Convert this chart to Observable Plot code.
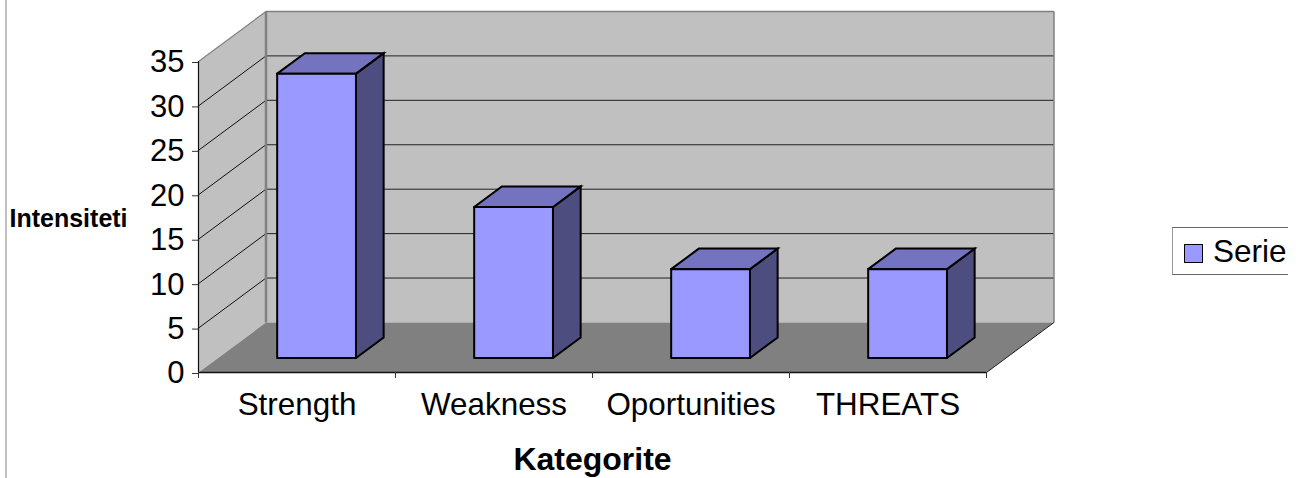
<!DOCTYPE html>
<html>
<head>
<meta charset="utf-8">
<script src="https://cdn.jsdelivr.net/npm/d3@7"></script>
<script src="https://cdn.jsdelivr.net/npm/@observablehq/plot@0.6"></script>
<style>
  html, body { margin: 0; padding: 0; background: #fff; overflow: hidden; }
  #wrap { position: relative; width: 1304px; height: 478px; font-family: "Liberation Sans", Arial, sans-serif; }
  #wrap svg { display: block; position: absolute; left: 0; top: 0; }
  #edge { position: absolute; left: 5px; top: 0; width: 2px; height: 478px; background: #c0c0c0; }
  #legend { position: absolute; left: 1172px; top: 227px; width: 116px; height: 48px; box-sizing: border-box;
            border: 1px solid #666; border-left-color: #999; border-right: none; overflow: hidden; background: #fff; white-space: nowrap; }
  #legend .key { position: absolute; left: 11px; top: 16px; width: 17px; height: 17px; background: #9999ff; border: 1.5px solid #000; box-sizing: content-box; }
  #legend .name { position: absolute; left: 40px; top: 6px; font-size: 31.5px; line-height: 35px; color: #000; }
</style>
</head>
<body>
<div id="wrap"><div id="edge"></div></div>
<script>
const categories = ["Strength", "Weakness", "Oportunities", "THREATS"];
const values = [32, 17, 10, 10];
const valueTicks = [0, 5, 10, 15, 20, 25, 30, 35];
const slotTicks = [0, 1, 2, 3, 4];
const seriesName = "Serie";
const axisTitleX = "Kategorite";
const axisTitleY = "Intensiteti";

// oblique projection: one unit of depth, in scale units
const depthX = 0.3426, depthY = 5.63;
const barHalf = 0.2, depthFront = 0.29, depthBack = 0.7;
const at = (slot, value, depth) => ({x: slot + depth * depthX, y: value + depth * depthY});
const face = (id, pts) => [...pts, pts[0]].map(p => ({...p, id}));

const maxV = d3.max(valueTicks), maxS = d3.max(slotTicks);

const leftWall = face("l", [at(0,0,0), at(0,maxV,0), at(0,maxV,1), at(0,0,1)]);
const backWall = face("b", [at(0,0,1), at(0,maxV,1), at(maxS,maxV,1), at(maxS,0,1)]);
const floor = face("f", [at(0,0,0), at(maxS,0,0), at(maxS,0,1), at(0,0,1)]);

const sideGrid = valueTicks.filter(v => v > 0 && v < maxV).flatMap(v => [at(0,v,0), at(0,v,1)].map(p => ({...p, id: v})));
const backGrid = valueTicks.filter(v => v > 0 && v < maxV).flatMap(v => [at(0,v,1), at(maxS,v,1)].map(p => ({...p, id: v})));

const bars = values.map((v, i) => ({l: i + 0.5 - barHalf, r: i + 0.5 + barHalf, v, i}));
const frontFaces = bars.flatMap(b => face(b.i, [at(b.l,0,depthFront), at(b.r,0,depthFront), at(b.r,b.v,depthFront), at(b.l,b.v,depthFront)]));
const topFaces = bars.flatMap(b => face(b.i, [at(b.l,b.v,depthFront), at(b.r,b.v,depthFront), at(b.r,b.v,depthBack), at(b.l,b.v,depthBack)]));
const sideFaces = bars.flatMap(b => face(b.i, [at(b.r,0,depthFront), at(b.r,0,depthBack), at(b.r,b.v,depthBack), at(b.r,b.v,depthFront)]));

const polygon = (data, fill, stroke, strokeWidth) => Plot.line(data, {x: "x", y: "y", z: "id", fill, stroke, strokeWidth, strokeLinejoin: "miter", strokeMiterlimit: 4});
const segment = (data, stroke, strokeWidth) => Plot.line(data, {x: "x", y: "y", z: "id", stroke, strokeWidth, strokeLinecap: "butt"});

const chart = Plot.plot({
  width: 1304, height: 478,
  marginLeft: 198, marginRight: 318, marginTop: 61, marginBottom: 106,
  style: {fontFamily: '"Liberation Sans", Arial, sans-serif', background: "transparent", overflow: "visible"},
  x: {type: "linear", domain: [0, maxS], axis: null},
  y: {type: "linear", domain: [0, maxV], axis: null},
  marks: [
    polygon(backWall, "#c0c0c0", "none", 0),
    polygon(leftWall, "#c0c0c0", "none", 0),
    polygon(floor, "#808080", "none", 0),
    segment(sideGrid, "#111", 1),
    segment(backGrid, "#222", 1),
    // wall outlines
    segment([at(0,maxV,0), at(0,maxV,1)].map(p => ({...p, id: "a"})), "#808080", 1.2),
    segment([at(0,maxV,1), at(maxS,maxV,1)].map(p => ({...p, id: "b"})), "#808080", 1.5),
    segment([at(0,0,1), at(0,maxV,1)].map(p => ({...p, id: "c"})), "#808080", 2.5),
    segment([at(maxS,0,1), at(maxS,maxV,1)].map(p => ({...p, id: "d"})), "#808080", 1.5),
    segment([at(maxS,0,0), at(maxS,0,1)].map(p => ({...p, id: "e"})), "#222", 1),
    // bars
    polygon(sideFaces, "#4d4d80", "#000", 2),
    polygon(topFaces, "#7373bf", "#000", 2),
    polygon(frontFaces, "#9999ff", "#000", 2),
    // axes
    Plot.ruleX([0], {y1: 0, y2: maxV, stroke: "#111", strokeWidth: 1.2}),
    Plot.ruleY([0], {x1: 0, x2: maxS, stroke: "#111", strokeWidth: 1.5}),
    Plot.axisY({ticks: valueTicks, tickSize: 6, tickPadding: 8, fontSize: 31, label: null, stroke: "#333", fill: "#000", tickFormat: d => d, dy: 1}),
    Plot.axisX({ticks: slotTicks, tickSize: 6, tickFormat: () => "", label: null, stroke: "#333"}),
    Plot.text(categories, {x: (d, i) => i + 0.5, y: 0, text: d => d, dy: 32, fontSize: 31.4, fill: "#000"}),
    Plot.text([axisTitleX], {x: maxS / 2, frameAnchor: "bottom", dy: 97, fontSize: 32, fontWeight: "bold", fill: "#000"}),
    Plot.text([axisTitleY], {frameAnchor: "left", dx: -189, dy: 2, textAnchor: "start", fontSize: 25, fontWeight: "bold", fill: "#000", letterSpacing: "1.5px"})
  ]
});
const wrap = document.getElementById("wrap");
wrap.appendChild(chart);
const legend = document.createElement("div");
legend.id = "legend";
legend.innerHTML = '<div class="key"></div>';
const nm = document.createElement("div");
nm.className = "name";
nm.textContent = seriesName;
legend.appendChild(nm);
wrap.appendChild(legend);
</script>
</body>
</html>
